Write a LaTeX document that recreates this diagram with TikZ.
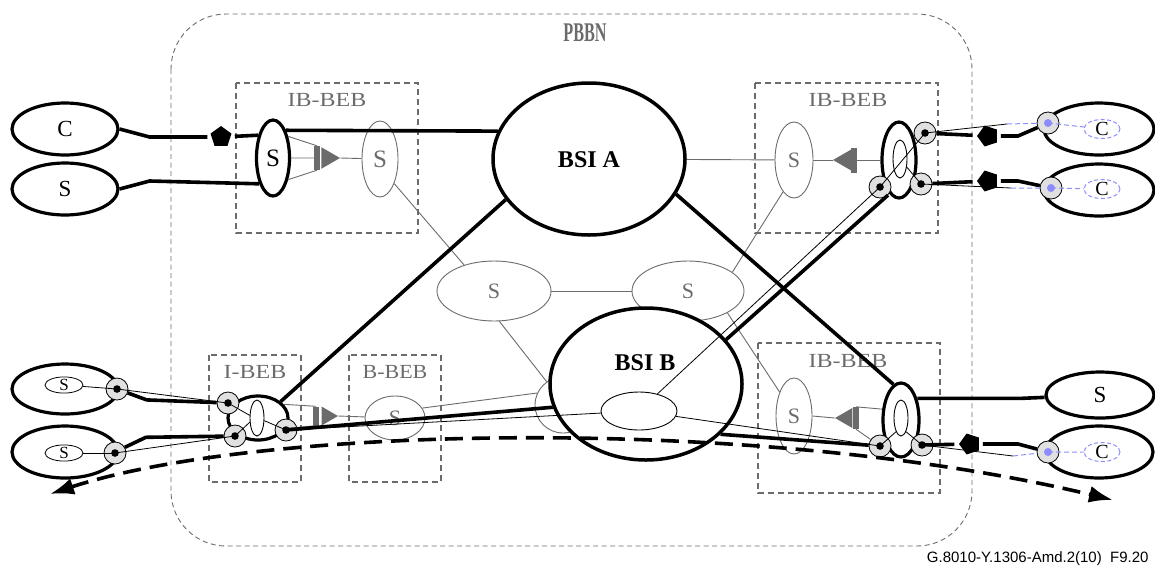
\documentclass[tikz,border=0pt]{standalone}
\usepackage{fontspec}
\setmainfont{Liberation Serif}
\newfontfamily\figsans{Liberation Sans}
\usepackage{graphicx}
\usetikzlibrary{arrows.meta, shapes.geometric}
\definecolor{bebgray}{gray}{0.42}
\definecolor{portgray}{gray}{0.88}
\definecolor{bluish}{RGB}{140,140,255}

\begin{document}
\begin{tikzpicture}[
  x=1pt, y=-1pt,
  cust/.style={ellipse, draw, line width=3.2pt, minimum width=106pt, minimum height=52pt, inner sep=0pt, font=\fontsize{23}{24}\selectfont},
  soval/.style={ellipse, draw, line width=3.2pt, inner sep=0pt},
  sgray/.style={ellipse, draw=bebgray, line width=0.9pt, text=bebgray, inner sep=0pt, font=\fontsize{22}{24}\selectfont},
  bsi/.style={ellipse, draw, line width=3.5pt, fill=white, minimum width=192pt, minimum height=152pt, inner sep=0pt},
  bsitext/.style={font=\bfseries\fontsize{24}{26}\selectfont},
  inov/.style={ellipse, draw, fill=white, line width=0.9pt, inner sep=0pt},
  sml/.style={ellipse, draw, line width=0.8pt, minimum width=38pt, minimum height=14pt, inner sep=0pt, font=\fontsize{17}{17}\selectfont},
  bsml/.style={ellipse, draw=bluish, dashed, dash pattern=on 4pt off 2.5pt, line width=1pt, minimum width=36pt, minimum height=16pt, inner sep=0pt, font=\fontsize{20}{20}\selectfont},
  port/.style={circle, draw, fill=portgray, line width=0.8pt, minimum size=22pt, inner sep=0pt},
  dport/.style={port, path picture={\fill[black] (path picture bounding box.center) circle (3.8pt);}},
  bport/.style={port, path picture={\fill[bluish] (path picture bounding box.center) circle (4pt);}},
  pent/.style={regular polygon, regular polygon sides=5, fill=black, minimum size=22pt, inner sep=0pt, outer sep=4pt},
  tri/.style={regular polygon, regular polygon sides=3, fill=bebgray, inner sep=0pt},
  bar/.style={rectangle, fill=bebgray, minimum width=6pt, inner sep=0pt},
  pbbnbox/.style={draw=bebgray, dashed, dash pattern=on 5pt off 3.5pt, line width=0.9pt, rounded corners=55pt},
  bebbox/.style={draw=bebgray, dashed, dash pattern=on 6pt off 4pt, line width=1.1pt},
  beblabel/.style={text=bebgray, font=\fontsize{20}{22}\selectfont},
  thk/.style={line width=3.6pt},
  thn/.style={line width=0.8pt},
  gline/.style={draw=bebgray, line width=0.9pt},
  bdash/.style={draw=bluish, dashed, dash pattern=on 5pt off 3pt, line width=1pt}
]
\useasboundingbox (0,0) rectangle (1155,566);

% provider network and bridge boxes
\draw[pbbnbox] (171,14) rectangle (972,546);
\node[text=bebgray, font=\bfseries\fontsize{27}{27}\selectfont] (pbbn) at (585,33) {\scalebox{0.6}[1]{PBBN}};
\draw[bebbox] (236,83) rectangle (418,233);
\draw[bebbox] (755,83) rectangle (938,233);
\draw[bebbox] (758,343) rectangle (940,493);
\draw[bebbox] (209,355) rectangle (301,482);
\draw[bebbox] (349,355) rectangle (441,482);
\node[beblabel] (lbTL) at (327,100) {\scalebox{1.2}[1]{IB-BEB}};
\node[beblabel] (lbTR) at (848,100) {\scalebox{1.2}[1]{IB-BEB}};
\node[beblabel] (lbBR) at (848,361) {\scalebox{1.2}[1]{IB-BEB}};
\node[beblabel] (lbI) at (255,372) {\scalebox{1.2}[1]{I-BEB}};
\node[beblabel] (lbB) at (395,372) {\scalebox{1.1}[1]{B-BEB}};

% customer sites
\node[cust] (cA) at (65,129) {C};
\node[cust] (sA) at (65,189) {S};
\node[cust, minimum height=50pt] (sB1) at (65,389) {};
\node[cust] (sB2) at (65,452) {};
\node[sml] (sS1) at (64,385) {S};
\node[sml] (sS2) at (64,453) {S};
\node[dport] (qL1) at (117,389) {};
\node[dport] (qL2) at (115,453) {};
\node[cust, minimum width=110pt] (cR1) at (1099,129) {};
\node[cust, minimum width=110pt] (cR2) at (1099,190) {};
\node[cust, minimum width=108pt, minimum height=46pt] (sR) at (1100,395) {S};
\node[cust, minimum width=108pt] (cR3) at (1099,452) {};
\node[bsml] (bC1) at (1102,129) {C};
\node[bsml] (bC2) at (1102,189) {C};
\node[bsml] (bC3) at (1102,452) {C};
\node[bport] (cR1p) at (1048,123) {};
\node[bport] (cR2p) at (1051,188) {};
\node[bport] (cR3p) at (1048,452) {};

% top left IB-BEB
\node[soval, minimum width=33pt, minimum height=76pt, font=\fontsize{25}{26}\selectfont] (sL) at (273,158) {S};
\node[pent] (pL) at (221,137) {};
\node[bar, minimum height=24pt] (bL) at (317,158) {};
\node[tri, minimum size=25pt, shape border rotate=-90] (tL) at (327.5,158) {};
\node[sgray, minimum width=36pt, minimum height=76pt, font=\fontsize{25}{26}\selectfont] (gL) at (380,159) {S};

% top right IB-BEB
\node[sgray, minimum width=38pt, minimum height=76pt] (gR) at (794,160) {S};
\node[tri, minimum size=24pt, shape border rotate=90] (tR) at (845,160) {};
\node[bar, minimum height=25pt] (bR) at (854,160) {};
\node[soval, minimum width=34pt, minimum height=76pt] (oR) at (899,160) {};
\node[inov, minimum width=14pt, minimum height=38pt] (iR) at (900,159) {};
\node[dport] (pR1) at (925,133) {};
\node[dport] (pR2) at (880,187) {};
\node[dport] (pR3) at (921,184) {};
\node[pent, shape border rotate=90] (pPR1) at (988,136) {};
\node[pent, shape border rotate=90] (pPR2) at (988,181) {};

% backbone
\node[bsi] (bsiA) at (589,159) {};
\node[bsitext] (tA) at (589,160) {BSI A};
\node[sgray, minimum width=114pt, minimum height=60pt] (mS1) at (494,291) {S};
\node[sgray, minimum width=112pt, minimum height=60pt] (mS2) at (688,291) {S};
\node[sgray, minimum width=56pt, minimum height=56pt] (gB) at (563,405) {};
\node[bsi] (bsiB) at (646,384) {};
\node[bsitext] (tB) at (645,363) {BSI B};
\node[inov, minimum width=76pt, minimum height=38pt] (iB) at (639,411) {};

% bottom left I-BEB and B-BEB
\node[soval, minimum width=60pt, minimum height=44pt] (oI) at (258,418) {};
\node[inov, minimum width=14pt, minimum height=36pt] (iI) at (257,418) {};
\node[dport] (pI1) at (228,403) {};
\node[dport] (pI2) at (235,436) {};
\node[dport] (pI3) at (286,430) {};
\node[bar, minimum height=19pt] (bI) at (316,416) {};
\node[tri, minimum size=22pt, shape border rotate=-90] (tI) at (327,416) {};
\node[sgray, minimum width=60pt, minimum height=44pt] (bS) at (395,418) {S};

% bottom right IB-BEB
\node[sgray, minimum width=36pt, minimum height=76pt] (gQ) at (794,416) {S};
\node[tri, minimum size=23pt, shape border rotate=90] (tQ) at (846.5,418) {};
\node[bar, minimum height=22pt] (bQ) at (856,418) {};
\node[soval, minimum width=36pt, minimum height=74pt] (oQ) at (901,420) {};
\node[inov, minimum width=14pt, minimum height=36pt] (iQ) at (901,418) {};
\node[dport] (pQ1) at (880,446) {};
\node[dport] (pQ2) at (922,445) {};
\node[pent, shape border rotate=90] (pPQ) at (970,444) {};

% connectors, top left
\draw[thk] (cA.east) -- ++(30,8) -- (pL) -- (sL.123);
\draw[thk] (sA.east) -- ++(30,-8) -- (sL.242);
\draw[thk] (sL.65) -- (bsiA.163);
\draw[gline] (sL.55) -- (bL.north) (sL.east) -- (bL.west) (sL.-55) -- (bL.south);
\draw[gline] (tL.east) -- (gL);
\draw[gline] (gL.-60) -- (mS1.139);

% connectors, top right
\draw[gline] (bsiA) -- (gR);
\draw[gline] (gR.east) -- (tR.west);
\draw[gline] (bR) -- (oR);
\draw[thn] (pR2.center) -- (pR1.center);
\draw[thn] (pR3.center) -- (iR.-50);
\draw[thk] (pR1) -- (pPR1) -- ++(30,0) -- (cR1p);
\draw[thk] (pR3) -- (pPR2) -- ++(30,0) -- (cR2p);
\draw[thn] (pR1.center) -- ++(82,-9) coordinate (jR1);
\draw[bdash] (jR1) -- (cR1p) (cR1p.center) -- (bC1);
\draw[thn] (pR3.center) -- ++(90,4) coordinate (jR2);
\draw[bdash] (jR2) -- (cR2p) (cR2p.center) -- (bC2);

% connectors, middle
\draw[gline] (mS1) -- (mS2);
\draw[gline] (mS2.23) -- (gR.251);
\draw[gline] (mS2.-29) -- (gQ.121);
\draw[gline] (mS1.-80) -- (gB.125);
\draw[thk] (bsiA.206.6) -- (oI.36.5);
\draw[thk] (bsiA.-22.7) -- (oQ.102);
\draw[thk] (pR2.-45) -- (bsiB.29);
\draw[thn] (pR2.center) -- (iB);

% connectors, bottom left
\draw[thn] (sS1) -- (qL1.center);
\draw[thn] (sS2) -- (qL2.center);
\draw[thk] (qL1.-20) -- ++(19,7) -- (pI1);
\draw[thk] (qL2.30) -- ++(21,-10) -- (pI2);
\draw[thn] (qL1.center) -- (pI1.center);
\draw[thn] (qL2.center) -- (pI2.center);
\draw[thn] (pI1.center) -- (iI.160) (pI2.center) -- (iI.-150) (iI.-20) -- (pI3.center);
\draw[gline] (oI.28) -- (bI.north) (oI.-20) -- (bI.south);
\draw[gline] (tI.east) -- (bS);
\draw[gline] (bS.20) -- (gB.155);
\draw[thk] (pI3.center) -- (bsiB.194.5);
\draw[thn] (pI3.center) -- (iB);

% connectors, bottom right
\draw[gline] (gQ.east) -- (tQ.west);
\draw[gline] (bQ.north) -- (oQ.150) (bQ.south) -- (pQ1);
\draw[thn] (iQ.-110) -- (pQ1.center) (iQ.-70) -- (pQ2.center);
\draw[thk] (oQ.53) -- ++(102,0) -- (sR);
\draw[thk] (pQ2.center) -- (pPQ) -- ++(48,0) -- (cR3p);
\draw[thn] (pQ2.center) -- ++(91,11) coordinate (jQ);
\draw[bdash] (jQ) -- (cR3p) (cR3p.center) -- (bC3);
\draw[thk] (bsiB.-34.6) -- (pQ1);
\draw[thn] (iB) -- (pQ1.center);

% service path
\coordinate (dl) at (50,494);
\coordinate (dr) at (1113,500);
\draw[thk, dashed, dash pattern=on 18pt off 9pt, {Latex[length=24pt,width=17pt]}-{Latex[length=24pt,width=17pt]}] (dl) .. controls (260,425) and (760,415) .. (dr);

\node[font=\figsans\fontsize{15}{15}\selectfont, anchor=base east] (fig) at (1152,562) {G.8010-Y.1306-Amd.2(10)\ \ F9.20};
\end{tikzpicture}
\end{document}
